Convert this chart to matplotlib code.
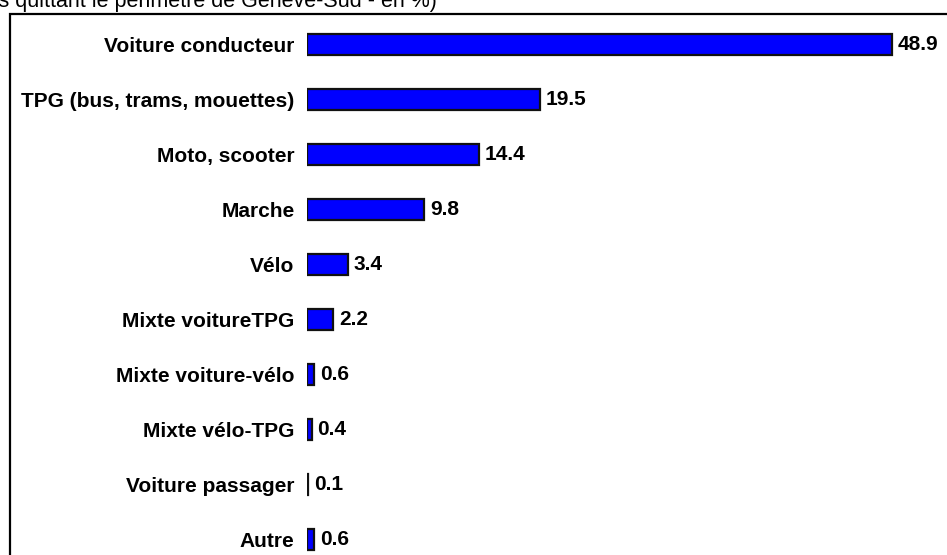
import matplotlib
matplotlib.use("Agg")
from matplotlib import pyplot as plt
from matplotlib.patches import Rectangle
from matplotlib import font_manager

modes = ['Voiture conducteur', 'TPG (bus, trams, mouettes)', 'Moto, scooter', 'Marche', 'Vélo',
         'Mixte voitureTPG', 'Mixte voiture-vélo', 'Mixte vélo-TPG', 'Voiture passager', 'Autre']
parts = [48.9, 19.5, 14.4, 9.8, 3.4, 2.2, 0.6, 0.4, 0.1, 0.6]
titre = "(Déplacements quittant le périmètre de Genève-Sud - en %)"

noms = {f.name for f in font_manager.fontManager.ttflist}
narrow = 'Liberation Sans Narrow' if 'Liberation Sans Narrow' in noms else 'Liberation Sans'

W, H = 947, 555
fig = plt.figure(figsize=(W / 100, H / 100), dpi=100, facecolor='w')

# axe : 0 a x=307px, 11.97 px par unite ; lignes a 44.5px + 55px*i
x0, x1 = 307, 940
y_top, y_bot = 44.5 - 27.5, 44.5 + 9 * 55 + 27.5
ax = fig.add_axes([x0 / W, 1 - y_bot / H, (x1 - x0) / W, (y_bot - y_top) / H])
ax.set_xlim(0, (x1 - x0) / 11.97)
ax.set_ylim(len(modes) - 0.5, -0.5)

pos = list(range(len(modes)))
bars = ax.barh(pos, parts, height=0.38, color='#0000ff', edgecolor='#111111', linewidth=1.6)
ax.bar_label(bars, labels=['%.1f' % v for v in parts], padding=4,
             fontfamily=narrow, fontweight='bold', fontsize=15)

ax.set_yticks(pos)
ax.set_yticklabels(modes, fontfamily=narrow, fontweight='bold', fontsize=15)
ax.tick_params(axis='y', length=0, pad=9)
ax.set_xticks([])
for s in ax.spines.values():
    s.set_visible(False)
ax.patch.set_alpha(0)

# cadre (deborde a droite et en bas)
fig.add_artist(Rectangle((9.5 / W, -0.1), 1.2, 1.1 - 14.5 / H, transform=fig.transFigure,
                         fill=False, edgecolor='black', linewidth=1.6))

# titre coupe en haut de l'image
fig.text(437 / W, 1 - 7 / H, titre, ha='right', va='baseline',
         fontfamily='Liberation Sans', fontsize=15.5)

plt.savefig('out.png', dpi=100)
